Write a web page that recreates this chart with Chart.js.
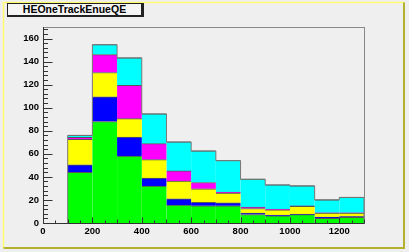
<!DOCTYPE html>
<html><head><meta charset="utf-8">
<script src="https://cdn.jsdelivr.net/npm/chart.js@4/dist/chart.umd.min.js"></script>
<style>
html,body{margin:0;padding:0;background:#efefef;}
#wrap{position:relative;width:409px;height:252px;}
#title{position:absolute;left:7px;top:3px;width:133px;height:11px;background:#f5f5f5;border:1px solid #222;border-right:3px solid #222;border-bottom:2px solid #222;font:bold 10.5px "Liberation Sans",Arial,sans-serif;line-height:11px;text-align:center;color:#000;}
</style></head>
<body>
<div id="wrap"><canvas id="c" width="409" height="252"></canvas><div id="title">HEOneTrackEnueQE</div></div>
<script>
const binCenters = [150,250,350,450,550,650,750,850,950,1050,1150,1250];
const green   = [44, 88, 58, 32, 15.5, 15, 15, 7.4, 6.3, 7.2, 4, 5];
const blue    = [6.5, 21.5, 16.5, 7, 5.5, 3, 2.5, 1.2, 0.5, 0.5, 1.2, 0.5];
const yellow  = [22, 21, 16, 16, 15.3, 11.7, 8.5, 4, 4.7, 6.7, 3.4, 3.1];
const magenta = [1.8, 15.6, 28.8, 13.8, 8.9, 5.4, 0.8, 1.2, 0.5, 0.4, 0.3, 0.3];
const cyan    = [1.7, 8.6, 24, 25.9, 25.1, 27.4, 27.4, 24.2, 21.1, 17.5, 11.3, 13.3];
const xTickLabels = [0,200,400,600,800,1000,1200];
const yTickLabels = [0,20,40,60,80,100,120,140,160];

const binWidth = 100;
const series = [
  {name:'green', data:green, color:'#00ff00'},
  {name:'blue', data:blue, color:'#0000ff'},
  {name:'yellow', data:yellow, color:'#ffff00'},
  {name:'magenta', data:magenta, color:'#ff00ff'},
  {name:'cyan', data:cyan, color:'#00ffff'}
];
const totals = binCenters.map((_,i)=>series.reduce((s,d)=>s+d.data[i],0));
const outline = [{x:binCenters[0]-binWidth/2,y:0}]
  .concat(binCenters.map((c,i)=>({x:c+binWidth/2,y:totals[i]})))
  .concat([{x:binCenters[binCenters.length-1]+binWidth/2,y:0}]);

const datasets = series.map(s=>({
  type:'bar', label:s.name,
  data: binCenters.map((c,i)=>({x:c,y:s.data[i]})),
  backgroundColor:s.color, borderColor:'#555',
  borderWidth:{top:1,left:0,right:0,bottom:0}, borderSkipped:false,
  barPercentage:1, categoryPercentage:1, stack:'h'
}));
datasets.push({type:'line', label:'outline', data:outline, stepped:'after',
  borderColor:'#777', borderWidth:1, pointRadius:0, fill:false, stack:'o', order:-1});

const font = {family:'"Liberation Sans", Arial, sans-serif', size:9.5, weight:'bold'};

const frame = {
  id:'frame',
  beforeDraw(chart){
    const ctx=chart.ctx;
    ctx.save();
    ctx.fillStyle='#efefef'; ctx.fillRect(0,0,409,252);
    ctx.strokeStyle='#ffff70'; ctx.lineWidth=1.5;
    ctx.beginPath(); ctx.moveTo(3.5,248); ctx.lineTo(3.5,2.5); ctx.lineTo(404,2.5); ctx.stroke();
    ctx.strokeStyle='#b4b030'; ctx.lineWidth=2;
    ctx.beginPath(); ctx.moveTo(404,2.5); ctx.lineTo(404,248); ctx.lineTo(3.5,248); ctx.stroke();
    ctx.restore();
  },
  afterDraw(chart){
    const ctx=chart.ctx, a=chart.chartArea, xs=chart.scales.x, ys=chart.scales.y;
    ctx.save();
    ctx.strokeStyle='#888'; ctx.lineWidth=1;
    ctx.strokeRect(Math.round(a.left)+0.5,Math.round(a.top)+0.5,Math.round(a.right-a.left),Math.round(a.bottom-a.top));
    ctx.strokeStyle='#333';
    ctx.beginPath();
    const L=Math.round(a.left)+0.5, B=Math.round(a.bottom)+0.5;
    ctx.moveTo(L,a.top); ctx.lineTo(L,B); ctx.lineTo(a.right,B);
    for(let v=0; v<=1300; v+=50){
      const px=Math.round(xs.getPixelForValue(v))+0.5;
      const len = (v%200===0)?6:(v%100===0?4:3);
      ctx.moveTo(px,B); ctx.lineTo(px,B-len);
    }
    for(let v=0; v<=168; v+=4){
      const py=Math.round(ys.getPixelForValue(v))+0.5;
      const len=(v%20===0)?9:4.5;
      ctx.moveTo(L,py); ctx.lineTo(L+len,py);
    }
    ctx.stroke();
    ctx.restore();
  }
};

new Chart(document.getElementById('c'),{
  data:{datasets},
  options:{
    responsive:false, animation:false,
    layout:{padding:{top:27,right:45,left:0,bottom:0}},
    plugins:{legend:{display:false},tooltip:{enabled:false},title:{display:false}},
    scales:{
      x:{type:'linear', stacked:true, min:0, max:1300, offset:false,
        grid:{display:false, drawTicks:false}, border:{display:false},
        ticks:{stepSize:200, font, color:'#000', padding:3, maxRotation:0, autoSkip:false,
          callback:(v)=>String(v)},
        afterBuildTicks(s){ s.ticks = xTickLabels.map(v=>({value:v})); },
        afterFit(s){ s.height=29; }
      },
      y:{type:'linear', stacked:true, min:0, max:170,
        grid:{display:false, drawTicks:false}, border:{display:false},
        ticks:{stepSize:20, font, color:'#000', padding:4, callback:(v)=>String(v)},
        afterBuildTicks(s){ s.ticks = yTickLabels.map(v=>({value:v})); },
        afterFit(s){ s.width=43; }
      }
    }
  },
  plugins:[frame]
});
</script>
</body></html>
